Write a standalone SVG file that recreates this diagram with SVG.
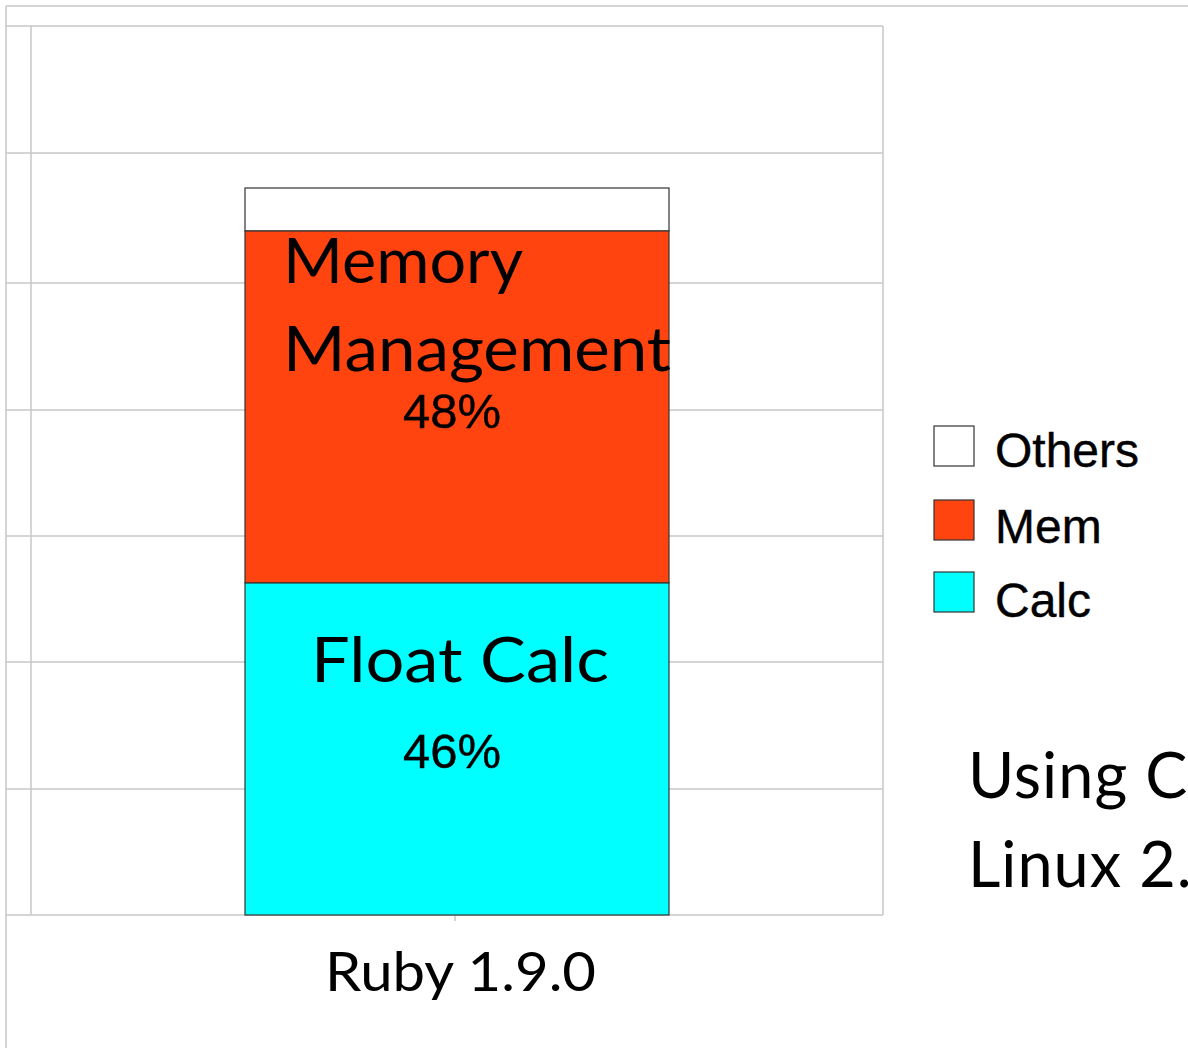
<svg xmlns="http://www.w3.org/2000/svg" width="1188" height="1048" viewBox="0 0 1188 1048">
  <style>
    .grid { stroke: #c8c8c8; stroke-width: 1.5; fill: none; }
    .seg { stroke: #333; stroke-width: 1.2; }
    .geo { font-family: Lato, "Noto Sans", sans-serif; fill: #000; }
    .arial { font-family: "Liberation Sans", Arial, sans-serif; fill: #000; stroke: #000; stroke-width: 0.4; }
  </style>
  <rect width="1188" height="1048" fill="#fff"/>

  <!-- frame and grid -->
  <g id="grid">
    <path class="grid" d="M6,6 H1188 M6,6 V1048"/>
    <path class="grid" d="M6,26 H883 M6,153 H883 M6,283 H883 M6,410 H883 M6,536 H883 M6,662 H883 M6,789 H883 M6,915 H883"/>
    <path class="grid" d="M31,26 V915 M883,26 V915 M455,915 V921"/>
  </g>

  <!-- stacked bar -->
  <g id="bar">
    <rect id="others" class="seg" x="245" y="188" width="424" height="43" fill="#ffffff"/>
    <rect id="mem" class="seg" x="245" y="231" width="424" height="352" fill="#ff4410"/>
    <rect id="calc" class="seg" x="245" y="583" width="424" height="332" fill="#00ffff"/>
  </g>

  <!-- segment labels -->
  <g id="labels">
    <text class="geo" x="283" y="283" font-size="62" textLength="240" lengthAdjust="spacingAndGlyphs">Memory</text>
    <text class="geo" x="283" y="371" font-size="62" textLength="388" lengthAdjust="spacingAndGlyphs">Management</text>
    <text class="arial" x="452" y="428" font-size="49" text-anchor="middle">48%</text>
    <text class="geo" x="311" y="682" font-size="62" textLength="298" lengthAdjust="spacingAndGlyphs">Float Calc</text>
    <text class="arial" x="452" y="768" font-size="49" text-anchor="middle">46%</text>
  </g>

  <!-- category axis label -->
  <text class="geo" x="325" y="991" font-size="54" textLength="271" lengthAdjust="spacingAndGlyphs">Ruby 1.9.0</text>

  <!-- legend -->
  <g id="legend">
    <rect class="seg" x="934" y="426" width="40" height="40" fill="#ffffff"/>
    <rect class="seg" x="934" y="500" width="40" height="40" fill="#ff4410"/>
    <rect class="seg" x="934" y="572" width="40" height="40" fill="#00ffff"/>
    <text class="arial" x="995" y="467" font-size="48">Others</text>
    <text class="arial" x="995" y="543" font-size="48">Mem</text>
    <text class="arial" x="995" y="617" font-size="48">Calc</text>
  </g>

  <!-- note -->
  <g id="note">
    <text class="geo" x="968" y="798" font-size="63" letter-spacing="1">Using C</text>
    <text class="geo" x="968" y="887" font-size="63" letter-spacing="1">Linux 2.</text>
  </g>
</svg>
